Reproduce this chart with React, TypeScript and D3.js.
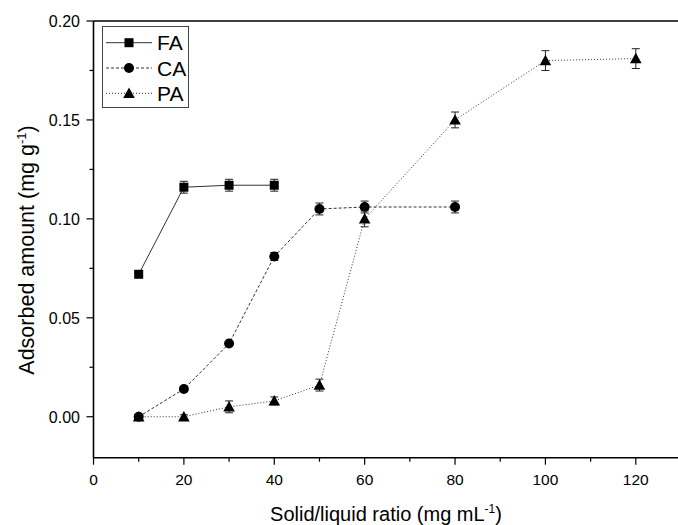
import React from "react";
import * as d3 from "d3";

const xValuesFA = [10, 20, 30, 40];
const yValuesFA = [0.072, 0.116, 0.117, 0.117];
const errFA = [0.001, 0.003, 0.003, 0.003];

const xValuesCA = [10, 20, 30, 40, 50, 60, 80];
const yValuesCA = [0.0, 0.014, 0.037, 0.081, 0.105, 0.106, 0.106];
const errCA = [0.001, 0.001, 0.001, 0.002, 0.003, 0.003, 0.003];

const xValuesPA = [10, 20, 30, 40, 50, 60, 80, 100, 120];
const yValuesPA = [0.0, 0.0, 0.005, 0.008, 0.016, 0.1, 0.15, 0.18, 0.181];
const errPA = [0.001, 0.001, 0.003, 0.002, 0.003, 0.004, 0.004, 0.005, 0.005];

const xMajorTicks = [0, 20, 40, 60, 80, 100, 120];
const xMinorTicks = [10, 30, 50, 70, 90, 110];
const yMajorTicks = [0.0, 0.05, 0.1, 0.15, 0.2];
const yMinorTicks = [0.025, 0.075, 0.125, 0.175];

const seriesNames = ["FA", "CA", "PA"];

const W = 678;
const H = 525;
const FONT = "'Liberation Sans', Arial, Helvetica, sans-serif";

export default function App() {
  const x = d3.scaleLinear().domain([0, 130]).range([93.5, 681]);
  const y = d3.scaleLinear().domain([-0.0207, 0.2]).range([457.7, 21]);

  const series = [
    { name: seriesNames[0], xs: xValuesFA, ys: yValuesFA, es: errFA, dash: "none", marker: "square" },
    { name: seriesNames[1], xs: xValuesCA, ys: yValuesCA, es: errCA, dash: "3,2", marker: "circle" },
    { name: seriesNames[2], xs: xValuesPA, ys: yValuesPA, es: errPA, dash: "1,2", marker: "triangle" },
  ];

  const line = d3
    .line<[number, number]>()
    .x((d) => x(d[0]))
    .y((d) => y(d[1]));

  const drawMarker = (kind: string, cx: number, cy: number, key: string) => {
    if (kind === "square") {
      return <rect key={key} x={cx - 4.5} y={cy - 4.5} width={9} height={9} fill="#000" />;
    }
    if (kind === "circle") {
      return <circle key={key} cx={cx} cy={cy} r={5} fill="#000" />;
    }
    const s = 5.8;
    return (
      <path
        key={key}
        d={`M${cx},${cy - s} L${cx + s},${cy + s * 0.8} L${cx - s},${cy + s * 0.8} Z`}
        fill="#000"
      />
    );
  };

  const left = x(0);
  const bottom = y(-0.0207);
  const top = y(0.2);

  return (
    <svg
      width={W}
      height={H}
      style={{ position: "absolute", left: 0, top: 0, background: "#fff" }}
      fontFamily={FONT}
    >
      <rect x={0} y={0} width={W} height={H} fill="#fff" />
      {/* frame */}
      <line x1={left} y1={top} x2={W} y2={top} stroke="#000" strokeWidth={1.6} />
      <line x1={left} y1={top} x2={left} y2={bottom} stroke="#000" strokeWidth={1.6} />
      <line x1={left} y1={bottom} x2={W} y2={bottom} stroke="#000" strokeWidth={1.6} />

      {/* y ticks */}
      {yMajorTicks.map((t) => (
        <g key={"ym" + t}>
          <line x1={left - 7} x2={left} y1={y(t)} y2={y(t)} stroke="#000" strokeWidth={1.2} />
          <text x={80} y={y(t)} dy="0.36em" textAnchor="end" fontSize={16}>
            {t.toFixed(2)}
          </text>
        </g>
      ))}
      {yMinorTicks.map((t) => (
        <line key={"yn" + t} x1={left - 4} x2={left} y1={y(t)} y2={y(t)} stroke="#000" strokeWidth={1.2} />
      ))}
      {/* x ticks */}
      {xMajorTicks.map((t) => (
        <g key={"xm" + t}>
          <line x1={x(t)} x2={x(t)} y1={bottom} y2={bottom + 7} stroke="#000" strokeWidth={1.2} />
          <text x={x(t)} y={485} textAnchor="middle" fontSize={15.5}>
            {t}
          </text>
        </g>
      ))}
      {xMinorTicks.map((t) => (
        <line key={"xn" + t} x1={x(t)} x2={x(t)} y1={bottom} y2={bottom + 4} stroke="#000" strokeWidth={1.2} />
      ))}

      {/* axis titles */}
      <text x={386} y={521} textAnchor="middle" fontSize={20}>
        Solid/liquid ratio (mg mL
        <tspan fontSize={12} dy={-8}>
          -1
        </tspan>
        <tspan dy={8}>)</tspan>
      </text>
      <text
        transform={`translate(34,${250}) rotate(-90)`}
        textAnchor="middle"
        fontSize={21.5}
      >
        Adsorbed amount (mg g
        <tspan fontSize={13} dy={-8}>
          -1
        </tspan>
        <tspan dy={8}>)</tspan>
      </text>

      {/* series */}
      {series.map((s) => {
        const pts: [number, number][] = s.xs.map((xv, i) => [xv, s.ys[i]]);
        return (
          <g key={s.name}>
            <path
              d={line(pts) || ""}
              fill="none"
              stroke="#333"
              strokeWidth={1}
              strokeDasharray={s.dash === "none" ? undefined : s.dash}
            />
            {pts.map((p, i) => {
              const cx = x(p[0]);
              const y1 = y(p[1] + s.es[i]);
              const y2 = y(p[1] - s.es[i]);
              return (
                <g key={"e" + i} stroke="#222" strokeWidth={1}>
                  <line x1={cx} x2={cx} y1={y1} y2={y2} />
                  <line x1={cx - 4} x2={cx + 4} y1={y1} y2={y1} />
                  <line x1={cx - 4} x2={cx + 4} y1={y2} y2={y2} />
                </g>
              );
            })}
            {pts.map((p, i) => drawMarker(s.marker, x(p[0]), y(p[1]), "m" + i))}
          </g>
        );
      })}

      {/* legend */}
      <rect x={102.5} y={26.5} width={86} height={81} fill="#fff" stroke="#444" strokeWidth={1} />
      {series.map((s, i) => {
        const ly = 42.7 + i * 25.3;
        return (
          <g key={"lg" + s.name}>
            <line
              x1={106}
              x2={152}
              y1={ly}
              y2={ly}
              stroke="#333"
              strokeWidth={1}
              strokeDasharray={s.dash === "none" ? undefined : s.dash}
            />
            {drawMarker(s.marker, 129, ly, "lm")}
            <text x={157} y={ly} dy="0.36em" fontSize={21}>
              {s.name}
            </text>
          </g>
        );
      })}
    </svg>
  );
}
